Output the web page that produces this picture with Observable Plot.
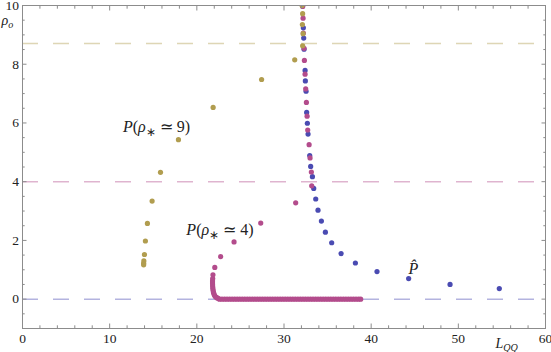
<!DOCTYPE html>
<html><head><meta charset="utf-8">
<script src="https://cdn.jsdelivr.net/npm/d3@7"></script>
<script src="https://cdn.jsdelivr.net/npm/@observablehq/plot@0.6"></script>
<style>body{margin:0;background:#fff}svg{display:block}svg text{font-family:"Liberation Serif","Times New Roman",serif !important}</style>
</head><body><div id="chart"></div>
<script>
// ---- data ----
const blueX = [32.14, 32.22, 32.26, 32.30, 32.42, 32.45, 32.53, 32.60, 32.68, 32.76, 32.95, 33.06, 33.26, 33.41, 33.64, 33.90, 34.29, 34.75, 35.47, 36.55, 38.19, 40.67, 44.30, 49.05, 54.70];
const blueY = [9.98, 9.24, 8.89, 8.51, 7.79, 7.43, 7.08, 6.36, 5.99, 5.62, 4.89, 4.52, 4.17, 3.77, 3.41, 3.03, 2.66, 2.28, 1.92, 1.55, 1.23, 0.94, 0.70, 0.50, 0.36];

const magentaX = [32.14, 32.19, 32.22, 32.30, 32.34, 32.42, 32.49, 32.57, 32.65, 32.72, 32.88, 32.99, 33.14, 33.18, 31.34, 27.33, 24.27, 22.73, 22.06, 21.85, 21.82, 21.80, 21.80, 21.81, 21.82, 21.84, 21.87, 21.91, 21.96, 22.03, 22.12, 22.22, 22.34, 22.47];
const magentaY = [9.97, 9.57, 9.06, 8.54, 8.13, 7.66, 7.16, 6.70, 6.23, 5.76, 5.26, 4.81, 4.33, 3.86, 3.28, 2.59, 1.95, 1.45, 1.08, 0.83, 0.70, 0.62, 0.55, 0.48, 0.41, 0.35, 0.29, 0.23, 0.18, 0.13, 0.09, 0.06, 0.04, 0.02];
// magenta points lying on rho_o = 0
const magentaBaseX = [22.60, 22.89, 23.18, 23.47, 23.76, 24.05, 24.34, 24.63, 24.92, 25.21, 25.50, 25.79, 26.08, 26.37, 26.66, 26.95, 27.24, 27.53, 27.82, 28.11, 28.40, 28.69, 28.98, 29.27, 29.56, 29.85, 30.14, 30.43, 30.72, 31.01, 31.30, 31.59, 31.88, 32.17, 32.46, 32.75, 33.04, 33.33, 33.62, 33.91, 34.20, 34.49, 34.78, 35.07, 35.36, 35.65, 35.94, 36.23, 36.52, 36.81, 37.10, 37.39, 37.68, 37.97, 38.26, 38.55, 38.80];

const goldX = [32.08, 32.14, 32.11, 32.19, 32.14, 31.23, 27.43, 21.87, 17.89, 15.83, 14.87, 14.33, 14.10, 13.99, 13.92, 13.90, 13.90];
const goldY = [10.00, 9.72, 9.35, 9.04, 8.63, 8.15, 7.48, 6.53, 5.43, 4.32, 3.34, 2.58, 1.98, 1.52, 1.30, 1.22, 1.17];

const refLevels = [0, 4, 8.71];          // dashed horizontal levels (blue, magenta, gold)

const xMajor = [0, 10, 20, 30, 40, 50, 60];
const xMinor = [2, 4, 6, 8, 12, 14, 16, 18, 22, 24, 26, 28, 32, 34, 36, 38, 42, 44, 46, 48, 52, 54, 56, 58];
const yMajor = [0, 2, 4, 6, 8, 10];
const yMinor = [-0.5, 0.5, 1, 1.5, 2.5, 3, 3.5, 4.5, 5, 5.5, 6.5, 7, 7.5, 8.5, 9, 9.5];

const annLabels = ["P(ρ∗ ≃ 9)", "P(ρ∗ ≃ 4)"];
const annX = [15.37, 22.65];
const annY = [5.68, 2.18];
const hatLabel = "P\u0302";
const hatX = 44.84, hatY = 0.86;

// ---- styling ----
const cBlue = "#4a4bb2", cMag = "#b34c8c", cGold = "#b19d4f";
const frameC = "#8c8c8c";
const R = 2.6;
const serif = "Liberation Serif";

const pts = (xs, ys) => xs.map((x, i) => ({x, y: ys[i]}));
const blue = pts(blueX, blueY);
const magenta = pts(magentaX, magentaY).concat(magentaBaseX.map(x => ({x, y: 0})));
const gold = pts(goldX, goldY);
const ann = annLabels.map((t, i) => ({t, x: annX[i], y: annY[i]}));

const chart = Plot.plot({
  width: 551, height: 352,
  marginLeft: 22, marginRight: 6, marginTop: 5, marginBottom: 24,
  style: {fontFamily: serif, fontSize: "13.5px", color: "#222", background: "#fff"},
  x: {domain: [0, 60]},
  y: {domain: [-1, 10]},
  marks: [
    Plot.ruleY([refLevels[0]], {stroke: cBlue, strokeOpacity: 0.42, strokeWidth: 1.5, strokeDasharray: "16,15"}),
    Plot.ruleY([refLevels[1]], {stroke: cMag, strokeOpacity: 0.42, strokeWidth: 1.5, strokeDasharray: "16,15"}),
    Plot.ruleY([refLevels[2]], {stroke: cGold, strokeOpacity: 0.42, strokeWidth: 1.5, strokeDasharray: "16,15"}),
    Plot.dot(blue, {x: "x", y: "y", r: R, fill: cBlue, clip: true}),
    Plot.dot(magenta, {x: "x", y: "y", r: R, fill: cMag, clip: true}),
    Plot.dot(gold, {x: "x", y: "y", r: R, fill: cGold, clip: true}),
    Plot.frame({stroke: frameC}),
    // tick labels
    Plot.axisX(xMajor, {anchor: "bottom", tickSize: 0, tickPadding: 5, label: null, fontFamily: serif}),
    Plot.axisY(yMajor, {anchor: "left", tickSize: 0, tickPadding: 3.5, label: null, fontFamily: serif}),
    // inward ticks on all four sides
    Plot.axisX(xMajor, {anchor: "bottom", tickSize: -4.5, text: null, label: null, stroke: frameC}),
    Plot.axisX(xMinor, {anchor: "bottom", tickSize: -2.7, text: null, label: null, stroke: frameC}),
    Plot.axisX(xMajor, {anchor: "top", tickSize: -4.5, text: null, label: null, stroke: frameC}),
    Plot.axisX(xMinor, {anchor: "top", tickSize: -2.7, text: null, label: null, stroke: frameC}),
    Plot.axisY(yMajor, {anchor: "left", tickSize: -4.5, text: null, label: null, stroke: frameC}),
    Plot.axisY(yMinor, {anchor: "left", tickSize: -2.7, text: null, label: null, stroke: frameC}),
    Plot.axisY(yMajor, {anchor: "right", tickSize: -4.5, text: null, label: null, stroke: frameC}),
    Plot.axisY(yMinor, {anchor: "right", tickSize: -2.7, text: null, label: null, stroke: frameC}),
    // annotations
    Plot.text(ann, {x: "x", y: "y", text: "t", lineAnchor: "bottom", fontSize: 16, fill: "#222", fontFamily: serif}),
    Plot.text([hatLabel], {x: hatX, y: hatY, text: d => d, lineAnchor: "bottom", fontSize: 16, fontStyle: "italic", fill: "#222", fontFamily: serif}),
    // axis labels
    Plot.text(["ρo"], {frameAnchor: "top-left", text: d => d, textAnchor: "start", lineAnchor: "bottom", dx: -21, dy: 19, fontSize: 14, fill: "#222", fontFamily: serif}),
    Plot.text(["LQQ"], {frameAnchor: "bottom-right", text: d => d, textAnchor: "start", lineAnchor: "bottom", dx: -50, dy: 19, fontSize: 14, fill: "#222", fontFamily: serif})
  ]
});
document.getElementById("chart").appendChild(chart);

// rich text (italics & subscripts)
const rich = {
  "P(ρ∗ ≃ 9)": [["P", "i"], ["(", ""], ["ρ", "i"], ["∗", "sub"], [" ≃ 9)", ""]],
  "P(ρ∗ ≃ 4)": [["P", "i"], ["(", ""], ["ρ", "i"], ["∗", "sub"], [" ≃ 4)", ""]],
  "ρo": [["ρ", "i"], ["o", "isub"]],
  "LQQ": [["L", "i"], ["QQ", "isub"]]
};
d3.select(chart).selectAll("text").each(function () {
  const parts = rich[this.textContent];
  if (!parts) return;
  const el = d3.select(this);
  el.text(null);
  let shift = 0;
  for (const [t, kind] of parts) {
    const ts = el.append("tspan").text(t);
    if (kind.includes("i")) ts.attr("font-style", "italic");
    const want = kind.includes("sub") ? 3.5 : 0;
    if (want !== shift) { ts.attr("dy", want - shift); shift = want; }
    if (kind.includes("sub")) ts.attr("font-size", "0.72em");
  }
});
</script>
</body></html>
